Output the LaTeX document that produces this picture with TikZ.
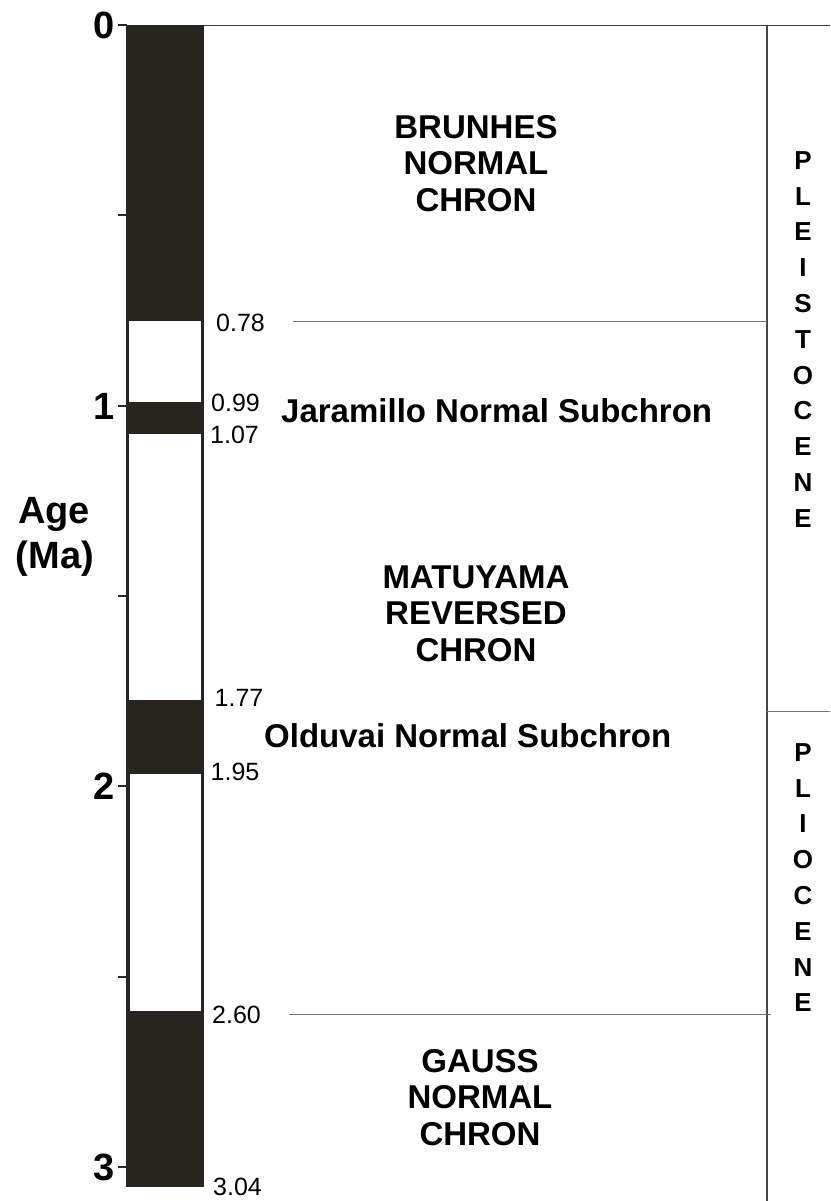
\documentclass[tikz,border=0pt]{standalone}
\usepackage{fontspec}
\setmainfont{Liberation Sans}
\definecolor{barcol}{RGB}{40,37,32}
\definecolor{topline}{RGB}{60,60,60}
\definecolor{greyline}{RGB}{115,115,115}
\definecolor{vline}{RGB}{70,70,70}
\begin{document}
\begin{tikzpicture}[x=1pt,y=-1pt,
  ticklab/.style={font=\fontsize{38}{44}\selectfont\bfseries, anchor=base east, inner sep=0pt},
  agelab/.style={font=\fontsize{38}{44}\selectfont\bfseries, anchor=base, inner sep=0pt},
  numlab/.style={font=\fontsize{25}{28}\selectfont, anchor=base west, inner sep=0pt},
  chronlab/.style={font=\fontsize{33}{36}\selectfont\bfseries, anchor=base, inner sep=0pt},
  sublab/.style={font=\fontsize{33}{36}\selectfont\bfseries, anchor=base west, inner sep=0pt},
  epochlab/.style={font=\fontsize{26}{30}\selectfont\bfseries, anchor=base, inner sep=0pt},
  tickmark/.style={draw=barcol, line width=2pt},
  blackband/.style={fill=barcol, draw=none},
  whiteband/.style={fill=white, draw=none},
  boundline/.style={draw=greyline, line width=1pt},
  frameline/.style={draw=vline, line width=1.4pt}]
\fill[white] (0,0) rectangle (830,1201);
\useasboundingbox (0,0) rectangle (830,1201);

% polarity column
\path[blackband] (126,25) rectangle (204,1187);
\path[whiteband] (129,320.5) rectangle (201,401.5);
\path[whiteband] (129,434) rectangle (201,699.5);
\path[whiteband] (129.5,774) rectangle (200.5,1010.5);

% ticks
\foreach \t/\y in {0/25,05/215,1/406,15/596,2/786,25/977,3/1167}{
  \coordinate (ta\t) at (118,\y);
  \coordinate (tb\t) at (126.5,\y);
  \draw[tickmark] (ta\t) -- (tb\t);
}
\node[ticklab] (lab0) at (115,38.6) {0};
\node[ticklab] (lab1) at (115,419.6) {1};
\node[ticklab] (lab2) at (115,799.6) {2};
\node[ticklab] (lab3) at (115,1180.6) {3};

\node[agelab] (age) at (54,523) {Age};
\node[agelab] (ma) at (55,568) {(Ma)};

% boundary ages
\node[numlab] (n078) at (216,331.7) {0.78};
\node[numlab] (n099) at (211,411) {0.99};
\node[numlab] (n107) at (210,443) {1.07};
\node[numlab] (n177) at (214.5,706) {1.77};
\node[numlab] (n195) at (210.5,780) {1.95};
\node[numlab] (n260) at (212,1023) {2.60};
\node[numlab] (n304) at (213,1195) {3.04};

% frame lines
\coordinate (topA) at (204,25.8);
\coordinate (topB) at (830,25.8);
\draw[draw=topline, line width=1.3pt] (topA) -- (topB);
\coordinate (vA) at (767,25.8);
\coordinate (vB) at (767,1201);
\draw[frameline] (vA) -- (vB);
\coordinate (epA) at (767,711);
\coordinate (epB) at (830,711);
\draw[boundline] (epA) -- (epB);
\coordinate (b78A) at (293,321);
\coordinate (b78B) at (767,321);
\draw[boundline] (b78A) -- (b78B);
\coordinate (b26A) at (289,1014);
\coordinate (b26B) at (771,1014);
\draw[boundline] (b26A) -- (b26B);

% chron labels
\node[chronlab] (br1) at (476,138.5) {BRUNHES};
\node[chronlab] (br2) at (476,175) {NORMAL};
\node[chronlab] (br3) at (476,211.5) {CHRON};
\node[sublab] (jar) at (281,422) {Jaramillo Normal Subchron};
\node[chronlab] (ma1) at (476,588) {MATUYAMA};
\node[chronlab] (ma2) at (476,624) {REVERSED};
\node[chronlab] (ma3) at (476,661) {CHRON};
\node[sublab] (old) at (264,747) {Olduvai Normal Subchron};
\node[chronlab] (ga1) at (480,1072) {GAUSS};
\node[chronlab] (ga2) at (480,1108) {NORMAL};
\node[chronlab] (ga3) at (480,1145) {CHRON};

% epochs
\foreach \l [count=\i] in {P,L,E,I,S,T,O,C,E,N,E}
  \node[epochlab] (ple\i) at (803,{169.3+35.8*(\i-1)}) {\l};
\foreach \l [count=\i] in {P,L,I,O,C,E,N,E}
  \node[epochlab] (pli\i) at (803,{761.3+35.8*(\i-1)}) {\l};
\end{tikzpicture}
\end{document}
